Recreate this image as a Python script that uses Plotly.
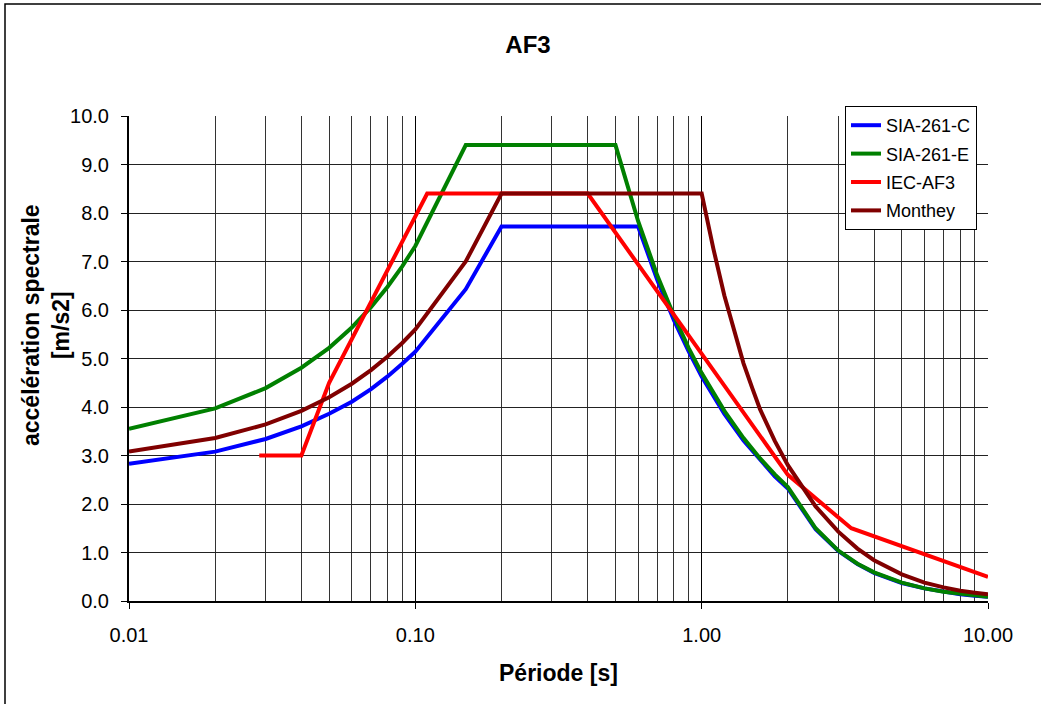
import plotly.graph_objects as go

# ---------------- data ----------------
T_SIA_C = [0.01, 0.02, 0.03, 0.04, 0.05, 0.06, 0.07, 0.08, 0.09, 0.10, 0.15, 0.20,
           0.60, 0.70, 0.80, 0.90, 1.00, 1.20, 1.40, 1.60, 1.80, 2.00, 2.50, 3.00,
           3.50, 4.00, 5.00, 6.00, 7.00, 8.00, 9.00, 10.00]
SIA_C = [2.83, 3.08, 3.34, 3.60, 3.86, 4.11, 4.37, 4.63, 4.89, 5.14, 6.43, 7.72,
         7.72, 6.62, 5.79, 5.15, 4.63, 3.86, 3.31, 2.90, 2.57, 2.32, 1.48, 1.03,
         0.76, 0.58, 0.37, 0.26, 0.19, 0.14, 0.11, 0.09]

T_SIA_E = [0.01, 0.02, 0.03, 0.04, 0.05, 0.06, 0.07, 0.08, 0.09, 0.10, 0.15, 0.50,
           0.60, 0.70, 0.80, 0.90, 1.00, 1.20, 1.40, 1.60, 1.80, 2.00, 2.50, 3.00,
           3.50, 4.00, 5.00, 6.00, 7.00, 8.00, 9.00, 10.00]
SIA_E = [3.55, 3.97, 4.39, 4.81, 5.22, 5.64, 6.06, 6.48, 6.90, 7.32, 9.40, 9.40,
         7.83, 6.71, 5.88, 5.22, 4.70, 3.92, 3.36, 2.94, 2.61, 2.35, 1.50, 1.04,
         0.77, 0.59, 0.38, 0.26, 0.19, 0.15, 0.12, 0.09]

T_IEC = [0.0285, 0.04, 0.05, 0.11, 0.40, 2.00, 3.33, 10.00]
IEC_AF3 = [3.0, 3.0, 4.5, 8.4, 8.4, 2.6, 1.5, 0.5]

T_MONTHEY = [0.01, 0.02, 0.03, 0.04, 0.05, 0.06, 0.07, 0.08, 0.09, 0.10, 0.15, 0.20,
             1.00, 1.10, 1.20, 1.30, 1.40, 1.50, 1.60, 1.80, 2.00, 2.50, 3.00, 3.50,
             4.00, 5.00, 6.00, 7.00, 8.00, 9.00, 10.00]
MONTHEY = [3.08, 3.36, 3.64, 3.92, 4.20, 4.48, 4.76, 5.04, 5.32, 5.60, 7.00, 8.40,
           8.40, 7.25, 6.30, 5.55, 4.90, 4.40, 3.95, 3.30, 2.80, 1.95, 1.43, 1.08,
           0.84, 0.55, 0.38, 0.28, 0.21, 0.17, 0.14]

X_TICKS = [0.01, 0.1, 1, 10]
X_TICK_TEXT = ["0.01", "0.10", "1.00", "10.00"]
X_MINOR = [m * d for d in (0.01, 0.1, 1) for m in range(2, 10)]

series = [
    ("SIA-261-C", T_SIA_C, SIA_C, "#0000FF"),
    ("SIA-261-E", T_SIA_E, SIA_E, "#008000"),
    ("IEC-AF3", T_IEC, IEC_AF3, "#FF0000"),
    ("Monthey", T_MONTHEY, MONTHEY, "#800000"),
]

FONT = "Liberation Sans, Arial, sans-serif"

fig = go.Figure()
for name, xs, ys, col in series:
    fig.add_trace(go.Scatter(x=xs, y=ys, name=name, mode="lines", legendgroup=name,
                             line=dict(color=col, width=4)))

W, H = 1041, 704
L, R, T, B = 129, 53, 116, 103
pw, ph = W - L - R, H - T - B

def px(x):
    return (x - L) / pw

def py(y):
    return (H - B - y) / ph

fig.update_layout(
    width=W, height=H,
    margin=dict(l=L, r=R, t=T, b=B),
    paper_bgcolor="white", plot_bgcolor="white",
    font=dict(family=FONT, color="black", size=20),
    showlegend=True,
    legend=dict(x=px(845), y=py(106), xanchor="left", yanchor="top",
                bgcolor="white", bordercolor="black", borderwidth=1,
                font=dict(size=18, family=FONT), tracegroupgap=2,
                entrywidth=95),
    xaxis=dict(type="log", range=[-2, 1], tickvals=X_TICKS, ticktext=X_TICK_TEXT,
               showgrid=True, gridcolor="black", gridwidth=1,
               minor=dict(tickvals=X_MINOR, showgrid=True, gridcolor="#333333",
                          gridwidth=1, ticks=""),
               showline=True, linecolor="black", linewidth=2,
               ticks="outside", ticklen=6, tickcolor="black",
               ticklabelstandoff=9, tickfont=dict(size=20),
               zeroline=False),
    yaxis=dict(range=[0, 10], dtick=1, tickformat=".1f",
               showgrid=True, gridcolor="#222222", gridwidth=1,
               showline=True, linecolor="black", linewidth=2,
               ticks="outside", ticklen=6, tickcolor="black",
               ticklabelstandoff=8, tickfont=dict(size=20),
               zeroline=False),
    title=dict(text="<b>AF3</b>", x=528 / W, y=1 - 45 / H, xanchor="center",
               yanchor="middle", xref="container", yref="container",
               font=dict(size=24, family=FONT)),
    annotations=[
        dict(text="<b>Période [s]</b>", x=px(558), y=py(673), xref="paper", yref="paper",
             xanchor="center", yanchor="middle", showarrow=False,
             font=dict(size=23, family=FONT)),
        dict(text="<b>accélération spectrale<br>[m/s2]</b>", x=px(46), y=py(325),
             xref="paper", yref="paper", xanchor="center", yanchor="middle",
             textangle=-90, showarrow=False, font=dict(size=23, family=FONT)),
    ],
    shapes=[
        dict(type="rect", xref="paper", yref="paper",
             x0=px(5), x1=px(1060), y0=py(720), y1=py(4),
             line=dict(color="black", width=1.5), fillcolor="rgba(0,0,0,0)",
             layer="below"),
    ],
)

fig.write_html("out.html", config={"displayModeBar": False},
               post_script="document.body.style.margin='0';document.body.style.padding='0';")
